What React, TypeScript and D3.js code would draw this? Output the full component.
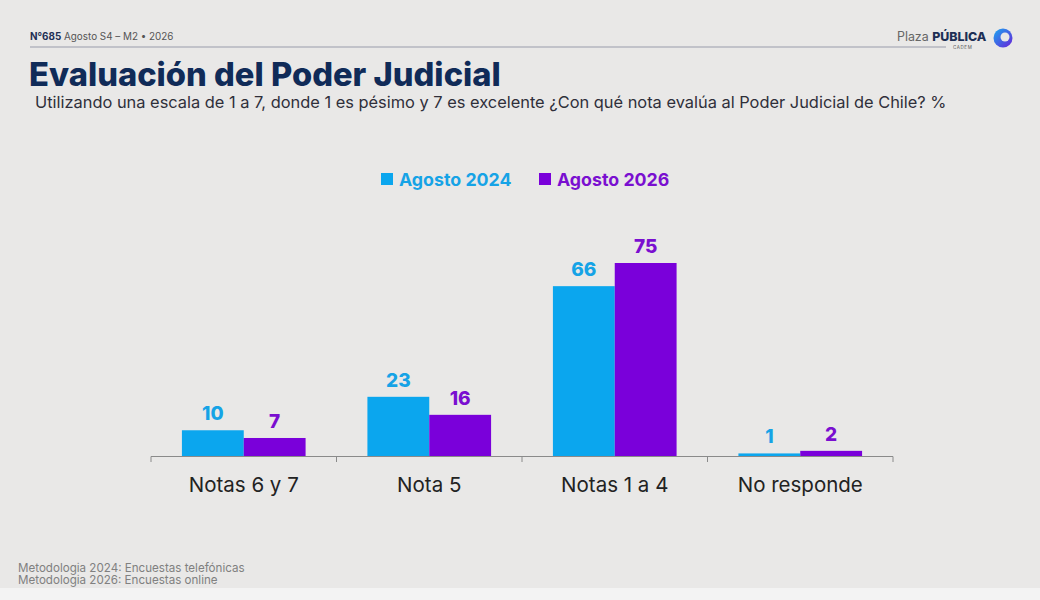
import React from 'react';
import * as d3 from 'd3';

// Survey: Evaluación del Poder Judicial (%)
const categories = ['Notas 6 y 7', 'Nota 5', 'Notas 1 a 4', 'No responde'];
const seriesNames = ['Agosto 2024', 'Agosto 2026'];
const values2024 = [10, 23, 66, 1];
const values2026 = [7, 16, 75, 2];
const seriesColors = ['#0ba6ee', '#7a00da'];
const labelColors = ['#16a3e6', '#7a0fd0'];

const footnotes = [
  'Metodologia 2024: Encuestas telefónicas',
  'Metodologia 2026: Encuestas online',
];

const W = 1040;
const H = 600;
const FONT = 'Inter, "Open Sans", sans-serif';

export default function App() {
  const x0 = d3.scaleBand<string>().domain(categories).range([151, 893]).paddingInner(0).paddingOuter(0);
  const x1 = d3.scaleBand<string>().domain(seriesNames).range([0, x0.bandwidth()]).paddingInner(0).paddingOuter(0.5);
  const y = d3.scaleLinear().domain([0, 75]).range([456, 263]);

  const rows = categories.map((c, i) => ({ cat: c, vals: [values2024[i], values2026[i]] }));
  const ticks = categories.map((c) => x0(c) as number).concat([893]);

  return (
    <svg width={W} height={H} viewBox={`0 0 ${W} ${H}`} style={{ position: 'absolute', left: 0, top: 0, display: 'block' }}>
      <rect x={0} y={0} width={W} height={H} fill="#e9e8e7" />
      <rect x={0} y={588} width={W} height={12} fill="#f3f3f3" />

      {/* header */}
      <text x={30} y={40} fontFamily={FONT} fontSize={9.9} fill="#555">
        <tspan fontWeight={700} fill="#1d2f55">N°685</tspan> Agosto S4 – M2 • 2026
      </text>
      <line x1={30} x2={946} y1={47} y2={47} stroke="#9a9cab" strokeWidth={1.2} />
      <text x={897} y={41} fontFamily={FONT} fontSize={12.4} fill="#666">
        Plaza <tspan fontWeight={800} fill="#1d2f55">PÚBLICA</tspan>
      </text>
      <text x={953} y={49} fontFamily={FONT} fontSize={4.5} fill="#555" letterSpacing={0.6}>CADEM</text>
      <defs>
        <linearGradient id="logoG" x1="0" y1="0" x2="1" y2="1">
          <stop offset="0%" stopColor="#19a7f0" />
          <stop offset="100%" stopColor="#6a22d8" />
        </linearGradient>
      </defs>
      <circle cx={1003} cy={38} r={9.5} fill="url(#logoG)" />
      <circle cx={1005} cy={37} r={4.5} fill="#e9e8e7" />

      {/* title */}
      <text x={29} y={86} fontFamily={FONT} fontSize={32.7} fontWeight={800} fill="#102b58">
        Evaluación del Poder Judicial
      </text>
      <text x={35} y={108} fontFamily={FONT} fontSize={16.4} fill="#2f2f3a">
        Utilizando una escala de 1 a 7, donde 1 es pésimo y 7 es excelente ¿Con qué nota evalúa al Poder Judicial de Chile? %
      </text>

      {/* legend */}
      {seriesNames.map((s, i) => (
        <g key={s} transform={`translate(${381 + i * 158},173)`}>
          <rect x={0} y={0} width={12} height={12} fill={seriesColors[i]} />
          <text x={18} y={12.5} fontFamily={FONT} fontSize={17.8} fontWeight={700} fill={labelColors[i]}>
            {s}
          </text>
        </g>
      ))}

      {/* bars */}
      {rows.map((r) => (
        <g key={r.cat} transform={`translate(${x0(r.cat)},0)`}>
          {r.vals.map((v, j) => {
            const bx = x1(seriesNames[j]) as number;
            return (
              <g key={j}>
                <rect x={bx} y={y(v)} width={x1.bandwidth()} height={y(0) - y(v)} fill={seriesColors[j]} />
                <text
                  x={bx + x1.bandwidth() / 2}
                  y={y(v) - 10}
                  textAnchor="middle"
                  fontFamily={FONT}
                  fontSize={19}
                  fontWeight={800}
                  fill={labelColors[j]}
                >
                  {v}
                </text>
              </g>
            );
          })}
          <text
            x={x0.bandwidth() / 2}
            y={492}
            textAnchor="middle"
            fontFamily={FONT}
            fontSize={20.5}
            fill="#222"
          >
            {r.cat}
          </text>
        </g>
      ))}

      {/* axis */}
      <line x1={151} x2={893} y1={456.5} y2={456.5} stroke="#8a8a8a" strokeWidth={1} />
      {ticks.map((t, i) => (
        <line key={i} x1={t} x2={t} y1={456.5} y2={462} stroke="#8a8a8a" strokeWidth={1} />
      ))}

      {/* footnotes */}
      {footnotes.map((f, i) => (
        <text key={i} x={18} y={572 + i * 12} fontFamily={FONT} fontSize={11.6} fill="#808080">
          {f}
        </text>
      ))}
    </svg>
  );
}
